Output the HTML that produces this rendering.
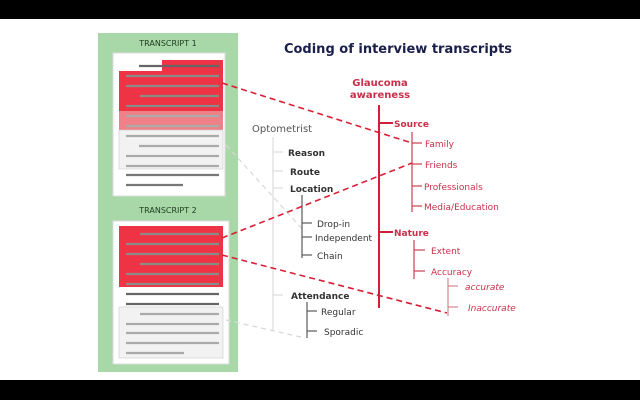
<!DOCTYPE html>
<html><head><meta charset="utf-8"><style>
html,body{margin:0;padding:0;background:#fff;}
svg{display:block;}
text{font-family:"DejaVu Sans","Liberation Sans",sans-serif;}
</style></head><body>
<svg width="640" height="400" viewBox="0 0 640 400" xmlns="http://www.w3.org/2000/svg">
<rect x="0" y="0" width="640" height="400" fill="#fff"/>
<rect x="0" y="0" width="640" height="19" fill="#000"/>
<rect x="0" y="380" width="640" height="20" fill="#000"/>

<!-- left panel -->
<rect x="98" y="33" width="140" height="339" fill="#a8d8a8"/>
<text x="168" y="46" font-size="8" fill="#1e3a1e" text-anchor="middle">TRANSCRIPT 1</text>
<text x="168" y="213" font-size="8" fill="#1e3a1e" text-anchor="middle">TRANSCRIPT 2</text>

<!-- box 1 -->
<rect x="113" y="53" width="112" height="143" fill="#fff" stroke="#ddd"/>
<rect x="162" y="60" width="61" height="12" fill="#ee3344"/>
<rect x="119" y="71" width="104" height="40" fill="#ee3344"/>
<rect x="119" y="111" width="104" height="19" fill="#f08088"/>
<rect x="119" y="130" width="104" height="39" fill="#f2f2f2" stroke="#ccc" stroke-width="0.6"/>
<g stroke="#8a8a8a" stroke-width="2.2">
<line x1="139" y1="66" x2="219" y2="66" stroke="#666"/>
<line x1="126" y1="76" x2="219" y2="76"/>
<line x1="126" y1="86" x2="219" y2="86"/>
<line x1="140" y1="96" x2="219" y2="96"/>
<line x1="126" y1="106" x2="219" y2="106"/>
<line x1="126" y1="116" x2="219" y2="116" stroke="#aaa"/>
<line x1="126" y1="126" x2="219" y2="126" stroke="#aaa"/>
<line x1="126" y1="136" x2="219" y2="136" stroke="#aaa"/>
<line x1="139" y1="146" x2="219" y2="146" stroke="#aaa"/>
<line x1="126" y1="156" x2="219" y2="156" stroke="#aaa"/>
<line x1="126" y1="166" x2="219" y2="166" stroke="#aaa"/>
<line x1="126" y1="175" x2="219" y2="175" stroke="#777"/>
<line x1="126" y1="185" x2="183" y2="185" stroke="#777"/>
</g>

<!-- box 2 -->
<rect x="113" y="221" width="116" height="143" fill="#fff" stroke="#ddd"/>
<rect x="119" y="226" width="104" height="61" fill="#ee3344"/>
<rect x="119" y="307" width="104" height="51" fill="#f2f2f2" stroke="#ccc" stroke-width="0.6"/>
<g stroke="#8a8a8a" stroke-width="2.2">
<line x1="140" y1="234" x2="219" y2="234"/>
<line x1="126" y1="244" x2="219" y2="244"/>
<line x1="126" y1="254" x2="219" y2="254"/>
<line x1="140" y1="264" x2="219" y2="264"/>
<line x1="126" y1="274" x2="219" y2="274"/>
<line x1="126" y1="284" x2="219" y2="284"/>
<line x1="126" y1="294" x2="219" y2="294" stroke="#666"/>
<line x1="126" y1="304" x2="219" y2="304" stroke="#666"/>
<line x1="140" y1="314" x2="219" y2="314" stroke="#aaa"/>
<line x1="126" y1="324" x2="219" y2="324" stroke="#aaa"/>
<line x1="126" y1="333" x2="219" y2="333" stroke="#aaa"/>
<line x1="126" y1="343" x2="219" y2="343" stroke="#aaa"/>
<line x1="126" y1="353" x2="184" y2="353" stroke="#aaa"/>
</g>

<!-- title -->
<text x="398" y="53" font-size="13" font-weight="bold" fill="#1a1f4a" text-anchor="middle">Coding of interview transcripts</text>

<!-- light dashed gray -->
<g stroke="#d8d8d8" stroke-width="1.2" stroke-dasharray="5,4" fill="none">
<line x1="226" y1="145" x2="305" y2="232"/>
<line x1="226" y1="320" x2="305" y2="338"/>
</g>

<!-- gray tree -->
<g stroke="#ddd" stroke-width="1.2">
<line x1="273" y1="137" x2="273" y2="330"/>
<line x1="273" y1="152" x2="283" y2="152"/>
<line x1="273" y1="171" x2="283" y2="171"/>
<line x1="273" y1="188" x2="283" y2="188"/>
<line x1="273" y1="295" x2="283" y2="295"/>
</g>
<g stroke="#666" stroke-width="1.3">
<line x1="302" y1="195" x2="302" y2="258"/>
<line x1="302" y1="223" x2="312" y2="223"/>
<line x1="302" y1="237" x2="312" y2="237"/>
<line x1="302" y1="255" x2="312" y2="255"/>
<line x1="307" y1="302" x2="307" y2="338"/>
<line x1="307" y1="311" x2="317" y2="311"/>
<line x1="307" y1="331" x2="317" y2="331"/>
</g>
<g font-size="9" fill="#333">
<text x="252" y="132" font-size="10" fill="#555">Optometrist</text>
<text x="288" y="156" font-weight="bold">Reason</text>
<text x="290" y="175" font-weight="bold">Route</text>
<text x="290" y="192" font-weight="bold">Location</text>
<text x="317" y="227">Drop-in</text>
<text x="315" y="241">Independent</text>
<text x="317" y="259">Chain</text>
<text x="291" y="299" font-weight="bold">Attendance</text>
<text x="321" y="315">Regular</text>
<text x="324" y="335">Sporadic</text>
</g>

<!-- red tree -->
<g stroke="#d01f3a" stroke-width="2">
<line x1="379" y1="105" x2="379" y2="308"/>
<line x1="379" y1="123" x2="393" y2="123"/>
<line x1="379" y1="232" x2="393" y2="232"/>
</g>
<g stroke="#c84050" stroke-width="1.2">
<line x1="412" y1="132" x2="412" y2="212"/>
<line x1="412" y1="143" x2="422" y2="143"/>
<line x1="412" y1="164" x2="422" y2="164"/>
<line x1="412" y1="186" x2="422" y2="186"/>
<line x1="412" y1="206" x2="422" y2="206"/>
<line x1="414" y1="240" x2="414" y2="279"/>
<line x1="414" y1="250" x2="425" y2="250"/>
<line x1="414" y1="271" x2="425" y2="271"/>
<line x1="448" y1="278" x2="448" y2="316" stroke="#d08890"/>
<line x1="448" y1="286" x2="458" y2="286" stroke="#d08890"/>
<line x1="448" y1="307" x2="458" y2="307" stroke="#d08890"/>
</g>
<g font-size="9" fill="#c8304a">
<text x="380" y="86" font-size="10" font-weight="bold" text-anchor="middle">Glaucoma</text>
<text x="380" y="98" font-size="10" font-weight="bold" text-anchor="middle">awareness</text>
<text x="394" y="127" font-weight="bold">Source</text>
<text x="425" y="147">Family</text>
<text x="425" y="168">Friends</text>
<text x="424" y="190">Professionals</text>
<text x="424" y="210">Media/Education</text>
<text x="394" y="236" font-weight="bold">Nature</text>
<text x="431" y="254">Extent</text>
<text x="431" y="275">Accuracy</text>
<text x="465" y="290" font-style="italic">accurate</text>
<text x="468" y="311" font-style="italic">Inaccurate</text>
</g>

<!-- red dashed connectors -->
<g stroke="#d81f35" stroke-width="1.6" stroke-dasharray="6,4" fill="none">
<line x1="222" y1="83" x2="412" y2="143"/>
<line x1="222" y1="238" x2="412" y2="163"/>
<line x1="222" y1="255" x2="447" y2="313"/>
</g>
</svg>
</body></html>
